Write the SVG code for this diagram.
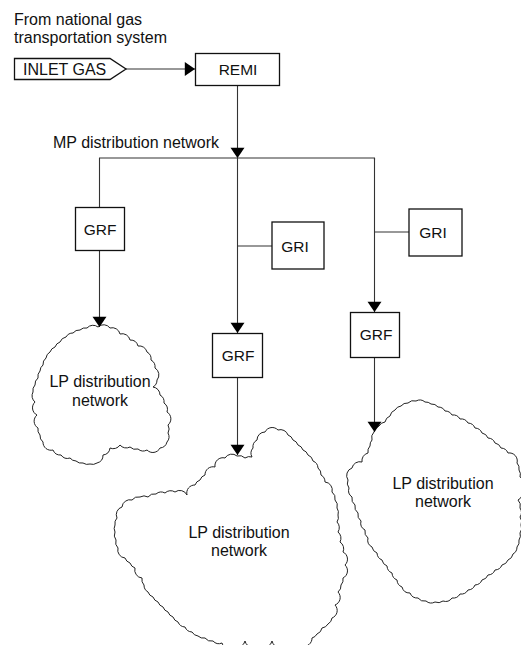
<svg xmlns="http://www.w3.org/2000/svg" width="521" height="645" viewBox="0 0 521 645">
<style>
text{font-family:"Liberation Sans",Arial,sans-serif;font-size:16px;fill:#111}
.lbl{font-size:15.5px;text-anchor:middle}
.ctr{text-anchor:middle}
.box{fill:#fff;stroke:#111;stroke-width:1.3}
.cloud{fill:#fff;stroke:#222;stroke-width:1}
.ln{fill:none;stroke:#333;stroke-width:1.1}
.arr{marker-end:url(#ah)}
</style>
<defs>
<marker id="ah" markerUnits="userSpaceOnUse" markerWidth="16" markerHeight="16" viewBox="0 -8 11 16" refX="10.2" refY="0" orient="auto">
<path d="M0,-7 L10.2,0 L0,7 Z" fill="#000"/>
</marker>
</defs>
<rect width="521" height="645" fill="#fff"/>
<text x="14" y="25">From national gas</text>
<text x="14" y="43">transportation system</text>
<text x="53" y="148">MP distribution network</text>

<g id="cloud-left">
<path class="cloud" d="M98,327 A8 8 0 0 1 110,328 A8 8 0 0 1 120,334 A8 8 0 0 1 130,340 A8 8 0 0 1 138,346 A8 8 0 0 1 147,352 A8 8 0 0 1 151,360 A8 8 0 0 1 155,368 A8 8 0 0 1 157,380 A8 8 0 0 1 153,387 A8 8 0 0 1 160,395 A8 8 0 0 1 164,403 A8 8 0 0 1 167,412 A8 8 0 0 1 168,425 A8 8 0 0 1 168,433 A8 8 0 0 1 167,442 A8 8 0 0 1 160,448 A8 8 0 0 1 147,450 A8 8 0 0 1 138,449 A8 8 0 0 1 130,447 A8 8 0 0 1 120,445 A8 8 0 0 1 110,448 A8 8 0 0 1 103,455 A8 8 0 0 1 97,463 A8 8 0 0 1 90,464 A8 8 0 0 1 83,463 A8 8 0 0 1 76,461 A8 8 0 0 1 70,458 A8 8 0 0 1 61,455 A8 8 0 0 1 53,450 A8 8 0 0 1 43,442 A8 8 0 0 1 40,435 A8 8 0 0 1 38,428 A8 8 0 0 1 37,415 A8 8 0 0 1 35,402 A8 8 0 0 1 33,392 A8 8 0 0 1 35,385 A8 8 0 0 1 38,378 A8 8 0 0 1 40,371 A8 8 0 0 1 43,365 A8 8 0 0 1 46,358 A8 8 0 0 1 50,352 A8 8 0 0 1 55,347 A8 8 0 0 1 60,342 A8 8 0 0 1 66,337 A8 8 0 0 1 73,333 A8 8 0 0 1 80,330 A8 8 0 0 1 87,328 A8 8 0 0 1 98,327 Z"/>
<text class="ctr" x="100" y="387">LP distribution</text>
<text class="ctr" x="100" y="406">network</text>
</g>

<g id="cloud-middle">
<path class="cloud" d="M237,456 A8 8 0 0 1 245,458 A8 8 0 0 1 252,457 A8 8 0 0 1 253,448 A8 8 0 0 1 257,440 A8 8 0 0 1 265,432 A8 8 0 0 1 278,430 A8 8 0 0 1 288,435 A8 8 0 0 1 293,440 A8 8 0 0 1 298,445 A8 8 0 0 1 303,450 A8 8 0 0 1 308,455 A8 8 0 0 1 313,461 A8 8 0 0 1 318,468 A8 8 0 0 1 321,475 A8 8 0 0 1 325,482 A8 8 0 0 1 332,492 A8 8 0 0 1 335,500 A8 8 0 0 1 337,508 A8 8 0 0 1 338,515 A8 8 0 0 1 337,522 A8 8 0 0 1 338,532 A8 8 0 0 1 340,542 A8 8 0 0 1 343,552 A8 8 0 0 1 345,565 A8 8 0 0 1 343,578 A8 8 0 0 1 341,585 A8 8 0 0 1 338,592 A8 8 0 0 1 335,605 A8 8 0 0 1 332,618 A8 8 0 0 1 328,624 A8 8 0 0 1 322,628 A8 8 0 0 1 317,634 A8 8 0 0 1 312,638 A8 8 0 0 1 302,646 A8 8 0 0 1 290,647 A8 8 0 0 1 280,647 A8 8 0 0 1 272,641 A8 8 0 0 1 262,647 A8 8 0 0 1 252,647 A8 8 0 0 1 245,641 A8 8 0 0 1 235,647 A8 8 0 0 1 222,643 A8 8 0 0 1 213,641 A8 8 0 0 1 205,638 A8 8 0 0 1 198,636 A8 8 0 0 1 192,632 A8 8 0 0 1 185,627 A8 8 0 0 1 178,622 A8 8 0 0 1 173,617 A8 8 0 0 1 168,612 A8 8 0 0 1 163,607 A8 8 0 0 1 158,602 A8 8 0 0 1 153,597 A8 8 0 0 1 148,592 A8 8 0 0 1 144,585 A8 8 0 0 1 142,578 A8 8 0 0 1 135,568 A8 8 0 0 1 130,563 A8 8 0 0 1 125,558 A8 8 0 0 1 118,548 A8 8 0 0 1 116,540 A8 8 0 0 1 115,532 A8 8 0 0 1 115,525 A8 8 0 0 1 117,518 A8 8 0 0 1 122,507 A8 8 0 0 1 132,500 A8 8 0 0 1 140,497 A8 8 0 0 1 148,497 A8 8 0 0 1 156,494 A8 8 0 0 1 165,493 A8 8 0 0 1 175,492 A8 8 0 0 1 187,495 A8 8 0 0 1 195,485 A8 8 0 0 1 200,480 A8 8 0 0 1 205,475 A8 8 0 0 1 215,467 A8 8 0 0 1 225,458 A8 8 0 0 1 237,456 Z"/>
<text class="ctr" x="239" y="538">LP distribution</text>
<text class="ctr" x="239" y="556">network</text>
</g>

<g id="cloud-right">
<path class="cloud" d="M374,432 A8 8 0 0 1 379,426 A8 8 0 0 1 385,422 A8 8 0 0 1 390,416 A8 8 0 0 1 395,410 A8 8 0 0 1 401,406 A8 8 0 0 1 408,403 A8 8 0 0 1 416,401 A8 8 0 0 1 425,402 A8 8 0 0 1 431,404 A8 8 0 0 1 438,407 A8 8 0 0 1 445,411 A8 8 0 0 1 452,415 A8 8 0 0 1 460,419 A8 8 0 0 1 468,423 A8 8 0 0 1 475,428 A8 8 0 0 1 482,433 A8 8 0 0 1 488,438 A8 8 0 0 1 495,443 A8 8 0 0 1 501,448 A8 8 0 0 1 508,453 A8 8 0 0 1 517,463 A8 8 0 0 1 519,470 A8 8 0 0 1 520,477 A8 8 0 0 1 522,490 A8 8 0 0 1 518,500 A8 8 0 0 1 520,508 A8 8 0 0 1 520,517 A8 8 0 0 1 521,525 A8 8 0 0 1 520,533 A8 8 0 0 1 519,540 A8 8 0 0 1 517,547 A8 8 0 0 1 513,554 A8 8 0 0 1 508,560 A8 8 0 0 1 502,565 A8 8 0 0 1 495,570 A8 8 0 0 1 488,575 A8 8 0 0 1 482,580 A8 8 0 0 1 475,585 A8 8 0 0 1 468,590 A8 8 0 0 1 460,594 A8 8 0 0 1 452,598 A8 8 0 0 1 443,601 A8 8 0 0 1 435,602 A8 8 0 0 1 426,601 A8 8 0 0 1 418,598 A8 8 0 0 1 410,593 A8 8 0 0 1 402,587 A8 8 0 0 1 397,580 A8 8 0 0 1 392,573 A8 8 0 0 1 387,566 A8 8 0 0 1 382,560 A8 8 0 0 1 377,553 A8 8 0 0 1 372,547 A8 8 0 0 1 368,538 A8 8 0 0 1 365,530 A8 8 0 0 1 361,521 A8 8 0 0 1 358,513 A8 8 0 0 1 355,505 A8 8 0 0 1 352,497 A8 8 0 0 1 349,488 A8 8 0 0 1 348,480 A8 8 0 0 1 352,468 A8 8 0 0 1 362,462 A8 8 0 0 1 368,453 A8 8 0 0 1 370,446 A8 8 0 0 1 372,440 A8 8 0 0 1 374,432 Z"/>
<text class="ctr" x="443" y="489">LP distribution</text>
<text class="ctr" x="443" y="507">network</text>
</g>

<g id="connectors">
<line class="ln arr" x1="126" y1="69" x2="195" y2="69"/>
<line class="ln arr" x1="237.5" y1="85" x2="237.5" y2="158"/>
<polyline class="ln" points="99.5,207 99.5,158 374.5,158 374.5,160"/>
<line class="ln arr" x1="99.5" y1="250" x2="99.5" y2="327"/>
<line class="ln arr" x1="237.5" y1="158" x2="237.5" y2="333"/>
<line class="ln arr" x1="237.5" y1="377" x2="237.5" y2="455"/>
<line class="ln" x1="237.5" y1="246" x2="272" y2="246"/>
<line class="ln arr" x1="374.5" y1="158" x2="374.5" y2="312"/>
<line class="ln arr" x1="374.5" y1="357" x2="374.5" y2="432"/>
<line class="ln" x1="374.5" y1="232" x2="409" y2="232"/>
</g>

<g id="inlet-gas">
<path class="box" d="M14.5,58.5 H110 L126,69 L110,79.5 H14.5 Z"/>
<text x="23" y="75">INLET GAS</text>
</g>
<g id="remi">
<rect class="box" x="195.5" y="53.5" width="84" height="32"/>
<text class="lbl" x="238" y="75">REMI</text>
</g>
<g id="grf-left">
<rect class="box" x="75.5" y="207.5" width="49" height="43"/>
<text class="lbl" x="100" y="234.5">GRF</text>
</g>
<g id="gri-middle">
<rect class="box" x="272" y="222" width="52" height="47"/>
<text class="lbl" x="295" y="252">GRI</text>
</g>
<g id="grf-middle">
<rect class="box" x="212.5" y="333.5" width="50" height="44"/>
<text class="lbl" x="238" y="361">GRF</text>
</g>
<g id="gri-right">
<rect class="box" x="409" y="209" width="53" height="47"/>
<text class="lbl" x="433" y="238">GRI</text>
</g>
<g id="grf-right">
<rect class="box" x="350.5" y="312.5" width="49" height="45"/>
<text class="lbl" x="376" y="340">GRF</text>
</g>
</svg>
